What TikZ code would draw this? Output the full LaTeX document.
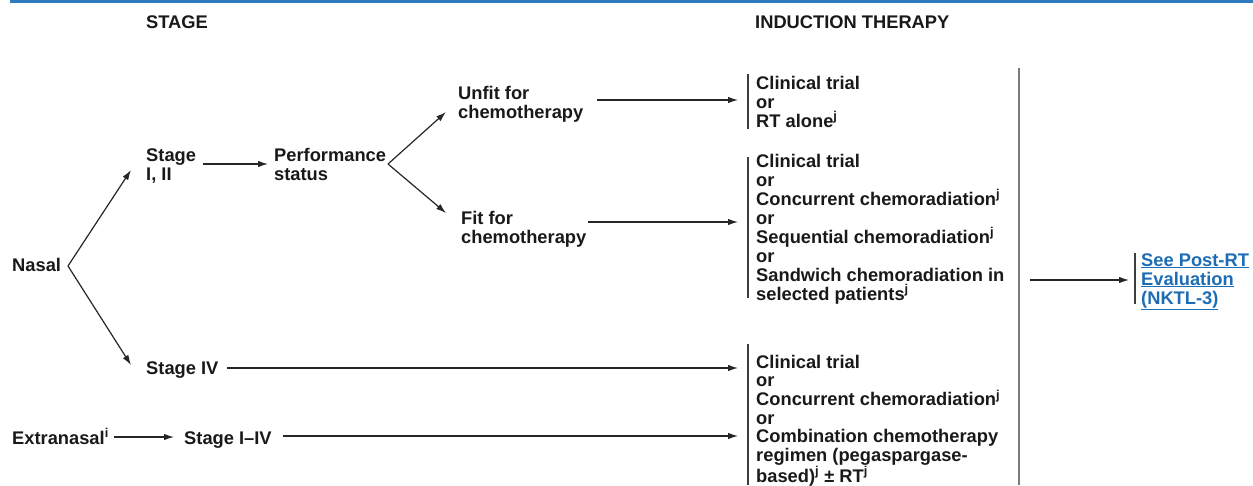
\documentclass[tikz,border=0pt]{standalone}
\usepackage{fontspec}
\setmainfont{Liberation Sans}
\usetikzlibrary{arrows.meta}
\definecolor{topblue}{HTML}{2E7BBF}
\definecolor{linkblue}{HTML}{1E6DB4}
\definecolor{bargray}{HTML}{3C3C3C}
\definecolor{biggray}{HTML}{7A7A7A}
\tikzset{
  lbl/.style={anchor=base west, inner sep=0pt, align=left, text=black!90,
    font=\fontsize{18.3}{19}\selectfont\bfseries},
  arr/.style={line width=1.2pt, draw=black!85, -{Latex[length=10pt,width=6.5pt]}},
  barline/.style={line width=1.6pt, draw=bargray},
}
\begin{document}
\begin{tikzpicture}[x=1pt,y=-1pt]
\useasboundingbox (0,0) rectangle (1253,485);
\fill[topblue] (10,0) rectangle (1253,3.2);

% anchor base west of a multi-line node = baseline of its last line
\node[lbl] (stage) at (146,28) {STAGE};
\node[lbl] (induct) at (755,28) {INDUCTION THERAPY};
\node[lbl] (nasal) at (12,271) {Nasal};
\node[lbl] (s12) at (146,180) {Stage\\I, II};
\node[lbl] (perf) at (274,180) {Performance\\status};
\node[lbl] (unfit) at (458,118) {Unfit for\\chemotherapy};
\node[lbl] (fit) at (461,243) {Fit for\\chemotherapy};
\node[lbl] (t1) at (756,127) {Clinical trial\\or\\RT alone\textsuperscript{j}};
\node[lbl] (t2) at (756,300) {Clinical trial\\or\\Concurrent chemoradiation\textsuperscript{j}\\or\\Sequential chemoradiation\textsuperscript{j}\\or\\Sandwich chemoradiation in\\selected patients\textsuperscript{j}};
\node[lbl, font=\fontsize{18.3}{18.7}\selectfont\bfseries] (t3) at (756,482) {Clinical trial\\or\\Concurrent chemoradiation\textsuperscript{j}\\or\\Combination chemotherapy\\regimen (pegaspargase-\\based)\textsuperscript{j} ± RT\textsuperscript{j}};
\node[lbl, text=linkblue] (post) at (1141,304) {\underline{See Post-RT}\\\underline{Evaluation}\\\underline{(NKTL-3)}};
\node[lbl] (s4) at (146,374) {Stage IV};
\node[lbl] (extra) at (12,444) {Extranasal\textsuperscript{i}};
\node[lbl] (s14) at (184,444) {Stage I–IV};

% connector end points
\coordinate (nasalR) at (68,266);
\coordinate (s12in) at (131,170);
\coordinate (s4in) at (131,365);
\coordinate (s12out) at (203,164);
\coordinate (perfin) at (268,164);
\coordinate (perfout) at (388,164);
\coordinate (unfitin) at (446,112);
\coordinate (fitin) at (446,213);
\coordinate (unfitout) at (597,100);
\coordinate (t1in) at (738,100);
\coordinate (fitout) at (588,222);
\coordinate (t2in) at (738,222);
\coordinate (s4out) at (227,368);
\coordinate (t3ina) at (738,368);
\coordinate (extraout) at (114,437);
\coordinate (s14in) at (174,437);
\coordinate (s14out) at (283,436);
\coordinate (t3inb) at (738,436);
\coordinate (bigout) at (1030,280);
\coordinate (postin) at (1129,280);

\draw[arr] (nasalR) -- (s12in);
\draw[arr] (nasalR) -- (s4in);
\draw[arr] (s12out) -- (perfin);
\draw[arr] (perfout) -- (unfitin);
\draw[arr] (perfout) -- (fitin);
\draw[arr] (unfitout) -- (t1in);
\draw[arr] (fitout) -- (t2in);
\draw[arr] (s4out) -- (t3ina);
\draw[arr] (extraout) -- (s14in);
\draw[arr] (s14out) -- (t3inb);
\draw[arr] (bigout) -- (postin);

% bars
\draw[barline] (748,74) -- (748,129);
\draw[barline] (748,157) -- (748,298);
\draw[barline] (748,344) -- (748,485);
\draw[line width=2.6pt, draw=biggray] (1019,68) -- (1019,485);
\draw[barline] (1135,253) -- (1135,304);
\end{tikzpicture}
\end{document}
